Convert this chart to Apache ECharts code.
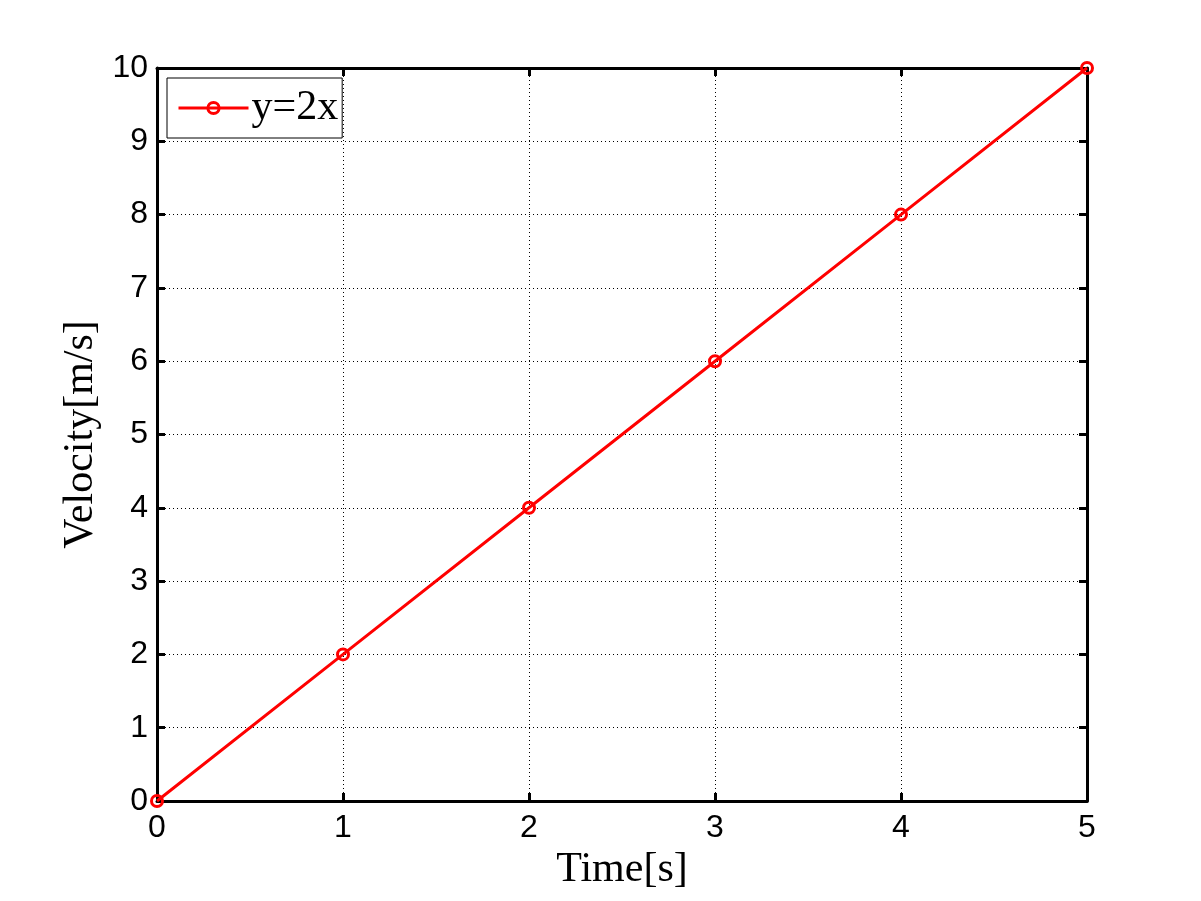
<!DOCTYPE html>
<html><head><meta charset="utf-8">
<script src="https://cdn.jsdelivr.net/npm/echarts@6/dist/echarts.min.js"></script>
<style>html,body{margin:0;padding:0;background:#fff}#c{width:1201px;height:901px}</style>
</head><body><div id="c"></div>
<script>
const xValues = [0, 1, 2, 3, 4, 5];
const yValues = [0, 2, 4, 6, 8, 10];
const seriesName = 'y=2x';
const xTicks = [0, 1, 2, 3, 4, 5];
const yTicks = [0, 1, 2, 3, 4, 5, 6, 7, 8, 9, 10];

const chart = echarts.init(document.getElementById('c'), null, {renderer: 'canvas'});
const axisLine = {show: true, onZero: false, lineStyle: {color: '#000', width: 3}};
const tick = {show: true, inside: true, length: 8, lineStyle: {color: '#000', width: 3}};
const grid = {show: true, lineStyle: {color: '#000', width: 1, type: [1, 3]}};
const lbl = {fontFamily: 'Liberation Sans', fontSize: 32, color: '#000'};
const nameStyle = {fontFamily: 'Liberation Serif', fontSize: 42, color: '#000'};

chart.setOption({
  animation: false,
  backgroundColor: '#fff',
  grid: {left: 157, right: 114, top: 68, bottom: 100, containLabel: false},
  legend: {
    left: 167, top: 78, orient: 'vertical',
    backgroundColor: '#fff', borderColor: '#000', borderWidth: 1, borderRadius: 0,
    padding: [9, 4, 9, 10], itemWidth: 70, itemHeight: 14, itemGap: 0,
    lineStyle: {width: 3},
    itemStyle: {color: 'rgba(255,255,255,0)', borderColor: '#f00', borderWidth: 3},
    textStyle: {fontFamily: 'Liberation Serif', fontSize: 42, color: '#000', padding: [0,0,0,-2]},
    data: [seriesName]
  },
  xAxis: [{
    type: 'value', min: 0, max: 5, interval: 1,
    axisLine, axisTick: tick, splitLine: grid,
    axisLabel: Object.assign({margin: 11}, lbl),
    name: 'Time[s]', nameLocation: 'middle', nameGap: 47, nameTextStyle: nameStyle
  }, {
    type: 'value', position: 'top', min: 0, max: 5, interval: 1,
    axisLine, axisTick: tick, splitLine: {show: false}, axisLabel: {show: false}
  }],
  yAxis: [{
    type: 'value', min: 0, max: 10, interval: 1,
    axisLine, axisTick: tick, splitLine: grid,
    axisLabel: Object.assign({margin: 9}, lbl),
    name: 'Velocity[m/s]', nameLocation: 'middle', nameGap: 49, nameTextStyle: nameStyle
  }, {
    type: 'value', position: 'right', min: 0, max: 10, interval: 1,
    axisLine, axisTick: tick, splitLine: {show: false}, axisLabel: {show: false}
  }],
  series: [{
    name: seriesName, type: 'line',
    data: xValues.map((x, i) => [x, yValues[i]]),
    symbol: 'circle', symbolSize: 11, showSymbol: true,
    lineStyle: {color: '#f00', width: 3},
    itemStyle: {color: 'rgba(255,255,255,0)', borderColor: '#f00', borderWidth: 3},
    z: 5
  }]
});
</script></body></html>
